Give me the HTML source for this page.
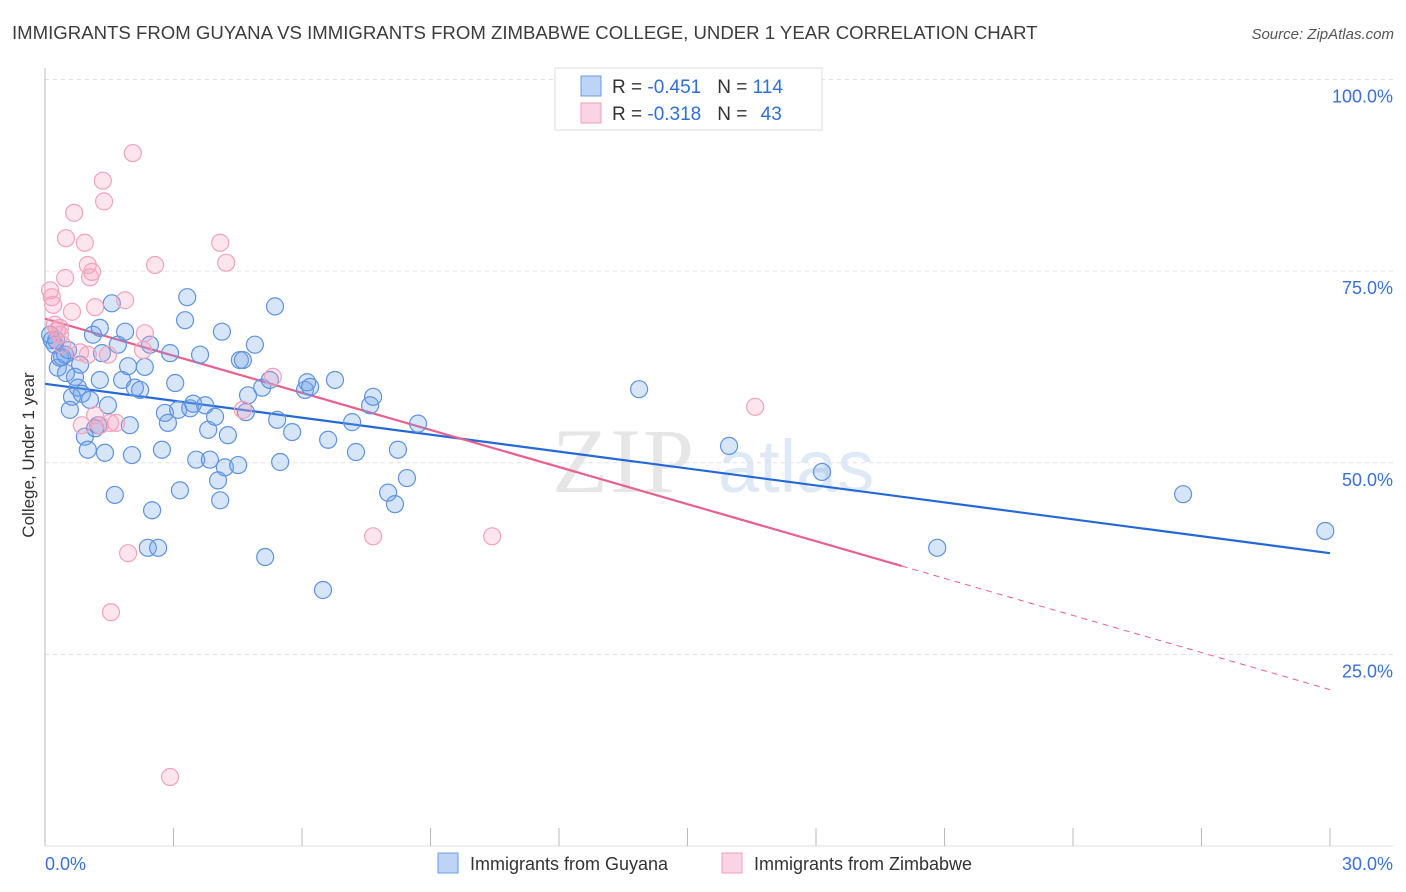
<!DOCTYPE html>
<html><head><meta charset="utf-8"><style>
body{margin:0;background:#fff;font-family:"Liberation Sans",sans-serif;}
#wrap{position:relative;width:1406px;height:892px;overflow:hidden;}
</style></head><body>
<div id="wrap">
<svg id="chart" width="1406" height="892" xmlns="http://www.w3.org/2000/svg">
<text x="12" y="39" font-size="18.6" fill="#3c3c3c" font-family="Liberation Sans, sans-serif">IMMIGRANTS FROM GUYANA VS IMMIGRANTS FROM ZIMBABWE COLLEGE, UNDER 1 YEAR CORRELATION CHART</text>
<text x="1394" y="39" font-size="15" fill="#555" font-style="italic" text-anchor="end">Source: ZipAtlas.com</text>
<g>
<text x="552" y="492" font-size="92" fill="#e6e6e6" font-family="Liberation Serif, serif" letter-spacing="2">ZIP</text>
<text x="718" y="492" font-size="74" fill="#dfe8f5" font-family="Liberation Sans, sans-serif">atlas</text>
</g>
<g id="grid"></g>
<g id="axes"></g>
<g id="trends"></g>
<g id="points"></g>
<g>
<rect x="555" y="68" width="267" height="62" fill="#fff" stroke="#ddd"/>
<rect x="581" y="76" width="20" height="20" fill="rgba(110,160,235,0.45)" stroke="#6a9be0"/>
<rect x="581" y="103" width="20" height="20" fill="rgba(245,160,190,0.45)" stroke="#f0a0b8"/>
<text x="612" y="93" font-size="19" fill="#333">R = <tspan fill="#2f6fd6">-0.451</tspan><tspan dx="16">N = </tspan><tspan fill="#2f6fd6">114</tspan></text>
<text x="612" y="120" font-size="19" fill="#333">R = <tspan fill="#2f6fd6">-0.318</tspan><tspan dx="16">N = </tspan><tspan fill="#2f6fd6" dx="8">43</tspan></text>
</g>
<g>
<rect x="438" y="853" width="20" height="20" fill="rgba(110,160,235,0.45)" stroke="#6a9be0"/>
<text x="470" y="870" font-size="18" fill="#333">Immigrants from Guyana</text>
<rect x="722" y="853" width="20" height="20" fill="rgba(245,160,190,0.45)" stroke="#f0a0b8"/>
<text x="754" y="870" font-size="18" fill="#333">Immigrants from Zimbabwe</text>
</g>
<text x="34" y="455" font-size="17" fill="#333" text-anchor="middle" transform="rotate(-90 34 455)">College, Under 1 year</text>
</svg>
</div>
<script>
const yTicks=[25,50,75,100];
const yTickLabels=["25.0%","50.0%","75.0%","100.0%"];
const xTickCount=[0,3,6,9,12,15,18,21,24,27,30];
const xLabels=["0.0%","30.0%"];
const guyanaX=[0.16,0.23,0.30,0.40,0.49,0.58,0.63,0.70,0.77,0.86,0.93,1.00,1.12,1.17,1.24,1.28,1.33,1.40,1.47,1.56,1.63,1.70,1.80,1.87,1.94,1.98,2.03,2.10,2.22,2.33,2.40,2.45,2.50,2.64,2.73,2.80,2.87,2.92,3.04,3.11,3.15,3.27,3.32,3.39,3.46,3.53,3.62,3.74,3.81,3.85,3.97,4.04,4.09,4.13,4.20,4.27,4.51,4.55,4.62,4.69,4.74,4.90,5.07,5.14,5.25,5.37,5.42,5.49,5.77,6.07,6.12,6.19,6.49,6.61,6.77,7.17,7.26,7.59,7.66,8.01,8.17,8.24,8.45,8.71,13.87,15.97,18.14,20.83,26.57,29.89,0.12,0.35,0.47,0.82,1.05,1.28,0.54,0.26];
const guyanaY=[66.0,65.4,62.4,63.8,61.7,56.9,58.6,61.2,59.8,59.0,53.4,51.7,66.7,54.5,54.9,67.6,64.3,51.3,57.5,70.8,45.8,65.4,60.8,67.1,62.6,54.9,51.0,59.8,59.5,62.5,38.9,65.4,43.8,38.9,51.7,56.5,55.2,64.3,60.4,56.9,46.4,68.6,71.6,57.1,57.7,50.4,64.1,57.5,54.3,50.4,56.0,47.7,45.1,67.1,49.4,53.6,49.7,63.4,63.4,56.6,58.8,65.4,59.8,37.7,60.8,70.4,55.6,50.1,54.0,59.5,60.5,59.9,33.4,53.0,60.8,55.3,51.4,57.5,58.6,46.1,44.6,51.7,48.0,55.1,59.6,52.2,48.8,38.9,45.9,41.1,66.7,63.7,64.1,62.8,58.2,60.8,64.7,66.0];
const zimX=[0.12,0.16,0.19,0.23,0.28,0.35,0.40,0.47,0.49,0.63,0.68,0.82,0.86,0.93,1.00,1.05,1.10,1.17,1.17,1.28,1.35,1.38,1.47,1.52,1.54,1.66,1.87,1.94,2.05,2.33,2.29,2.57,2.92,4.09,4.23,4.62,5.32,7.66,10.44,16.58,1.00,0.35];
const zimY=[72.5,71.6,70.6,68.0,67.3,66.7,65.4,74.1,79.3,69.7,82.6,64.4,54.9,78.7,75.8,74.2,74.9,70.3,56.2,54.9,86.8,84.1,64.1,55.2,30.5,55.2,71.2,38.2,90.4,66.9,64.7,75.8,9.0,78.7,76.1,56.9,61.2,40.4,40.4,57.3,64.1,67.6];
const guyanaTrend=[60.3,38.2];
const zimTrend=[68.8,20.4];
const zimSolidEnd=20.0;

const X0=45,X1=1330,Y0=846,YTOP=79.5;
const sx=v=>X0+(v/30)*(X1-X0);
const sy=v=>Y0-(v/100)*(Y0-YTOP);
const NS="http://www.w3.org/2000/svg";
function mk(tag,attrs,parent){const e=document.createElementNS(NS,tag);for(const k in attrs)e.setAttribute(k,attrs[k]);document.getElementById(parent).appendChild(e);return e;}

yTicks.forEach((t,i)=>{
  const g=mk('line',{x1:X0,x2:1393,y1:sy(t),y2:sy(t),stroke:'#e2e2e2','stroke-dasharray':'4,4'},'grid');
  
  
  const l=mk('text',{x:1393,y:sy(t)+23,'font-size':18,fill:'#3a70d6','text-anchor':'end'},'axes');
  l.textContent=yTickLabels[i];
  
  
});
const ax=mk('line',{x1:X0,x2:X0,y1:68,y2:Y0,stroke:'#bbb'},'axes');


const bx=mk('line',{x1:X0,x2:1393,y1:Y0,y2:Y0,stroke:'#e2e2e2'},'axes');


xTickCount.forEach(t=>{
  const tk=mk('line',{x1:sx(t),x2:sx(t),y1:828,y2:Y0,stroke:'#bbb'},'axes');
  
  
});
const xl0=mk('text',{x:45,y:870,'font-size':18,fill:'#3a70d6'},'axes');
xl0.textContent=xLabels[0];


const xl1=mk('text',{x:1393,y:870,'font-size':18,fill:'#3a70d6','text-anchor':'end'},'axes');
xl1.textContent=xLabels[1];



guyanaX.forEach((x,i)=>{
  const c=mk('circle',{cx:sx(x),cy:sy(guyanaY[i]),r:8.5,fill:'rgba(110,160,235,0.28)',stroke:'#5f93e0','stroke-width':1.2},'points');
  
  
});
zimX.forEach((x,i)=>{
  const c=mk('circle',{cx:sx(x),cy:sy(zimY[i]),r:8.5,fill:'rgba(245,160,190,0.28)',stroke:'#f2a3bb','stroke-width':1.2},'points');
  
  
});
const bl=mk('line',{x1:sx(0),y1:sy(guyanaTrend[0]),x2:sx(30),y2:sy(guyanaTrend[1]),stroke:'#2468d8','stroke-width':2.2},'trends');


const zy=t=>zimTrend[0]+(zimTrend[1]-zimTrend[0])*t/30;
const pl=mk('line',{x1:sx(0),y1:sy(zimTrend[0]),x2:sx(zimSolidEnd),y2:sy(zy(zimSolidEnd)),stroke:'#e8608e','stroke-width':2.2},'trends');


const pd=mk('line',{x1:sx(zimSolidEnd),y1:sy(zy(zimSolidEnd)),x2:sx(30),y2:sy(zimTrend[1]),stroke:'#e8608e','stroke-width':1,'stroke-dasharray':'6,5'},'trends');


</script>
</body></html>
